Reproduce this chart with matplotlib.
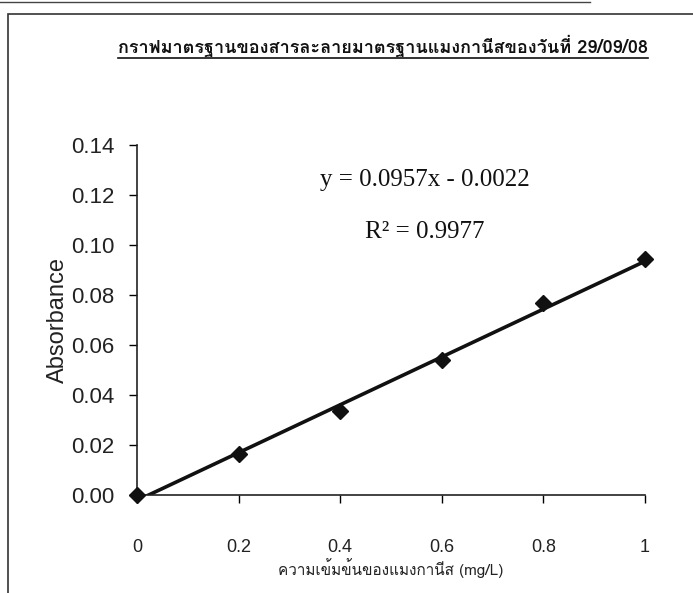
import matplotlib
matplotlib.use("Agg")
import matplotlib.pyplot as plt
from matplotlib import font_manager
from matplotlib.ft2font import FT2Font
from matplotlib.lines import Line2D
from matplotlib.patches import Rectangle

# data
concentration = [0.0, 0.2, 0.4, 0.6, 0.8, 1.0]
absorbance = [0.0, 0.0164, 0.0337, 0.0540, 0.0769, 0.0943]
slope = 0.0957
intercept = -0.0022
r_squared = 0.9977

x_ticks = [0, 0.2, 0.4, 0.6, 0.8, 1]
x_tick_labels = ["0", "0.2", "0.4", "0.6", "0.8", "1"]
y_ticks = [0.00, 0.02, 0.04, 0.06, 0.08, 0.10, 0.12, 0.14]
y_tick_labels = ["0.00", "0.02", "0.04", "0.06", "0.08", "0.10", "0.12", "0.14"]

title_text = "กราฟมาตรฐานของสารละลายมาตรฐานแมงกานีสของวันที่ 29/09/08"
x_label = "ความเข้มข้นของแมงกานีส (mg/L)"
y_label = "Absorbance"


def find_thai_font():
    """Return the name of an installed font that has Thai glyphs, if any."""
    for f in font_manager.fontManager.ttflist:
        try:
            ft = FT2Font(f.fname)
            if ft.get_char_index(ord("ก")):
                return f.name
        except Exception:
            pass
    return None


thai = find_thai_font()
serif_fam = ([thai] if thai else []) + ["Liberation Serif", "DejaVu Serif"]
sans_fam = ([thai] if thai else []) + ["Liberation Sans", "DejaVu Sans"]

W, H = 693, 593
fig = plt.figure(figsize=(W / 100, H / 100), dpi=100)
fig.patch.set_facecolor("white")

# chart area frame (scan shows left and top edges) + stray table line above
fig.add_artist(Rectangle((8 / W, -0.05), (700 - 8) / W, 1.05 - 14 / H,
                         transform=fig.transFigure, fill=False,
                         edgecolor="#333333", linewidth=1.2))
fig.add_artist(Line2D([0, 590 / W], [1 - 2 / H, 1 - 2 / H],
                      transform=fig.transFigure, color="#444444", linewidth=1.0))

ax = fig.add_axes([137 / W, 1 - 495 / H, (645 - 137) / W, (495 - 145) / H])
ax.set_facecolor("none")

# trendline from the fitted equation
trend_x = [concentration[0], concentration[-1]]
trend_y = [slope * v + intercept for v in trend_x]
ax.plot(trend_x, trend_y, color="#111111", linewidth=2.6, solid_capstyle="butt")
ax.plot(concentration, absorbance, linestyle="none", marker="D", markersize=8,
        color="#111111", clip_on=False, zorder=5)

ax.set_xlim(0, 1)
ax.set_ylim(0, 0.14)
for side in ["top", "right"]:
    ax.spines[side].set_visible(False)
for side in ["left", "bottom"]:
    ax.spines[side].set_linewidth(1.2)
    ax.spines[side].set_color("#222222")

ax.set_xticks(x_ticks)
ax.set_xticklabels(x_tick_labels, family=["Liberation Sans"], fontsize=13, color="#222222")
ax.set_yticks(y_ticks)
ax.set_yticklabels(y_tick_labels, family=["Liberation Sans"], fontsize=16, color="#222222")
ax.tick_params(axis="x", direction="out", length=6, width=1, pad=26)
ax.tick_params(axis="y", direction="out", length=6, width=1, pad=10)

ax.set_xlabel(x_label, family=sans_fam, fontsize=11, labelpad=1, color="#222222")
ax.set_ylabel(y_label, family=["Liberation Sans"], fontsize=17, labelpad=2, color="#222222")

ax.text(0.567, 0.126, f"y = {slope}x - {abs(intercept):.4f}", transform=ax.transData,
        family=["Liberation Serif"], fontsize=18, ha="center", va="center", color="#111111")
ax.text(0.567, 0.1052, f"R\u00b2 = {r_squared}", transform=ax.transData,
        family=["Liberation Serif"], fontsize=18, ha="center", va="center", color="#111111")

title = fig.text(383 / W, 1 - 46 / H, title_text, family=serif_fam, fontsize=13,
                 fontweight="bold", ha="center", va="center", color="#111111")

# underline the title
fig.canvas.draw()
bb = title.get_window_extent()
uy = (bb.y0 - 1) / H
fig.add_artist(Line2D([bb.x0 / W, bb.x1 / W], [uy, uy], transform=fig.transFigure,
                      color="#111111", linewidth=1.2))

fig.savefig("out.png", dpi=100)
